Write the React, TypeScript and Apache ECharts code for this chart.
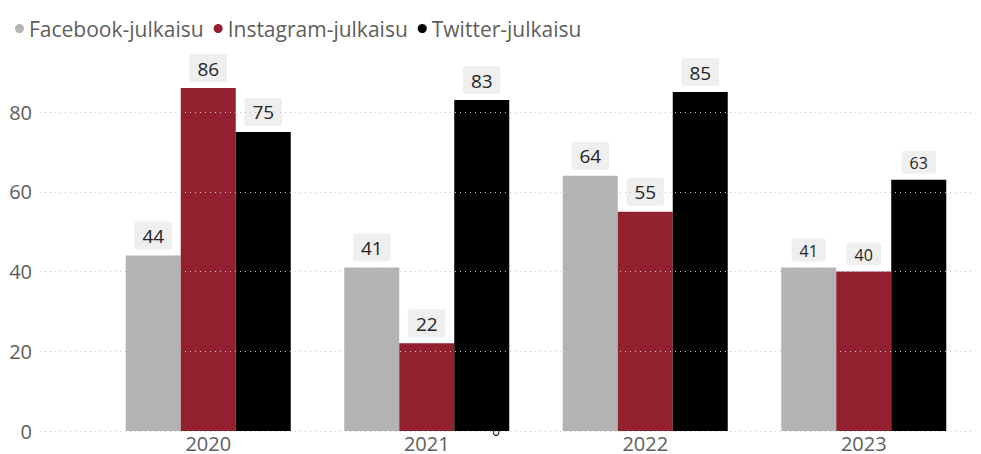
import React, { useEffect, useRef } from "react";
import * as echarts from "echarts";

const categories = ["2020", "2021", "2022", "2023"];
const seriesNames = ["Facebook-julkaisu", "Instagram-julkaisu", "Twitter-julkaisu"];
const facebook = [44, 41, 64, 41];
const instagram = [86, 22, 55, 40];
const twitter = [75, 83, 85, 63];
const yMin = 0;
const yMax = 80;
const yInterval = 20;
const strayLabel = "0";

const colors = ["#B3B3B3", "#93202F", "#000000"];
const FONT = "'Open Sans', 'Noto Sans', sans-serif";

function buildData(values: number[]) {
  return values.map((v, i) =>
    i === 3
      ? { value: v, label: { fontSize: 16, padding: [4, 8, 3, 8] } }
      : { value: v }
  );
}

export default function App() {
  const ref = useRef<HTMLDivElement>(null);
  useEffect(() => {
    if (!ref.current) return;
    const chart = echarts.init(ref.current, undefined, { renderer: "svg" });
    const allValues = [facebook, instagram, twitter];
    chart.setOption({
      animation: false,
      textStyle: { fontFamily: FONT },
      legend: {
        show: true,
        left: 10,
        top: 13,
        icon: "circle",
        itemWidth: 9,
        itemHeight: 9,
        itemGap: 10,
        textStyle: { fontSize: 21, color: "#605E5C", fontFamily: FONT },
        data: seriesNames,
      },
      grid: [
        { left: 40, right: 6, top: 112, bottom: 23 },
        { left: 99, right: 8, top: 112, bottom: 23 },
      ],
      xAxis: [
        { gridIndex: 0, type: "value", show: false, min: 0, max: 1 },
        {
          gridIndex: 1,
          type: "category",
          data: categories,
          axisLine: { show: false },
          axisTick: { show: false },
          axisLabel: { fontSize: 20, color: "#605E5C", margin: 2, fontFamily: FONT },
        },
      ],
      yAxis: [
        {
          gridIndex: 0,
          type: "value",
          min: yMin,
          max: yMax,
          interval: yInterval,
          z: 10,
          axisLine: { show: false },
          axisTick: { show: false },
          axisLabel: { fontSize: 20, color: "#605E5C", margin: 8, fontFamily: FONT },
          splitLine: { show: true, lineStyle: { color: "#C8C8C8", type: [1, 4], width: 1 } },
        },
        { gridIndex: 1, type: "value", min: yMin, max: yMax, interval: yInterval, show: false, splitLine: { show: false } },
      ],
      graphic: [
        {
          type: "text",
          left: 492,
          top: 423,
          z: 1,
          style: { text: strayLabel, fontSize: 14, fill: "#252423", fontFamily: FONT },
        },
      ],
      series: seriesNames.map((name, si) => ({
        name,
        type: "bar",
        xAxisIndex: 1,
        yAxisIndex: 1,
        barWidth: 55,
        barGap: "0%",
        clip: false,
        z: 2,
        itemStyle: { color: colors[si] },
        label: {
          show: true,
          position: "top",
          distance: 6,
          fontSize: 19,
          color: "#252423",
          fontFamily: FONT,
          backgroundColor: "#EFEFEF",
          borderRadius: 3,
          padding: [5, 8, 4, 8],
        },
        data: buildData(allValues[si]),
      })),
    });
    return () => chart.dispose();
  }, []);
  return (
    <div
      ref={ref}
      style={{ position: "fixed", left: 0, top: 0, width: 981, height: 454, background: "#fff" }}
    />
  );
}
